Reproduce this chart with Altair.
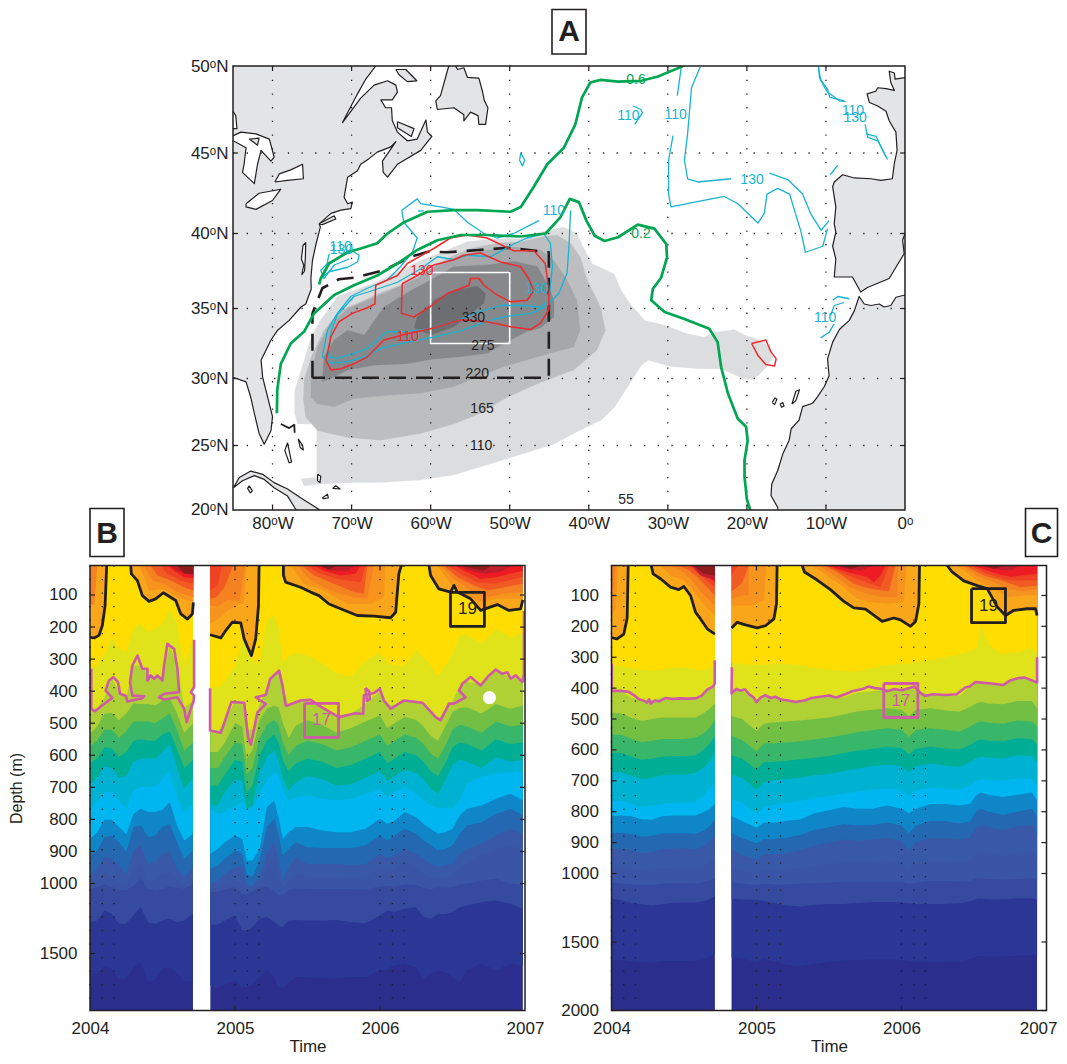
import altair as alt
import pandas as pd

INK = "#231f20"
GREEN = "#00a651"
RED = "#ee2a2e"
CYAN = "#17b3d2"
PINK = "#cf5ba6"
LAND = "#e3e4e5"
FONT = "Liberation Sans"

# ---------- Panel A (lon, lat) ----------
LON_TICKS = [-80, -70, -60, -50, -40, -30, -20, -10, 0]
LAT_TICKS = [20, 25, 30, 35, 40, 45, 50]

gray_110 = [(-73.9,34.17),(-71.8,35.8),(-69.7,36.2),(-66.7,36.8),(-64.2,37.45),(-61.3,38.2),(-57.9,38.9),(-55.4,39.45),(-52.8,39.6),(-48.6,39.67),(-46.1,40.1),(-43.2,40.4),(-41.5,40),(-40.6,39),(-39.6,38),(-36.8,37.3),(-35.9,36.2),(-34.6,35.2),(-32.9,34.15),(-30.4,33.8),(-27.5,33.2),(-25.4,32.95),(-24.1,33.3),(-22.8,33.4),(-21.6,33.5),(-20.3,33.1),(-18.6,32.8),(-17.4,32.35),(-16.7,31.5),(-17.4,30.9),(-18.6,30.2),(-19.5,29.9),(-20.7,30.05),(-23.3,30.7),(-26.2,30.7),(-29.6,30.85),(-32.5,31.3),(-33.4,30.9),(-35.05,29.4),(-36.7,27.9),(-38.4,26.9),(-41.9,25.9),(-44.4,25.1),(-48.6,24.3),(-52.8,23.5),(-57.1,22.7),(-61.3,22.3),(-66.3,22.1),(-69.7,22.1),(-73.9,22),(-76,21.85),(-76.4,22.4),(-74.4,22.5),(-74.4,26.6),(-76.8,26.6),(-77.2,27.4),(-77.2,29.1),(-76,31.3),(-75.1,33)]
gray_165 = [(-76.1,28.4),(-75.8,27.1),(-74.3,26.1),(-70.5,25.6),(-66.3,25.4),(-61.3,25.9),(-57.05,26.6),(-53.7,27.4),(-50.3,28.6),(-46.5,29.6),(-41.9,30.6),(-39,32),(-37.9,33.45),(-38.5,35.1),(-40.2,36.9),(-41.05,38.4),(-42.3,39.35),(-44,39.9),(-45.7,39.8),(-48.6,39.45),(-51.6,39.35),(-54.95,39),(-57.9,38.35),(-60.4,37.45),(-63.8,36.55),(-66.7,36),(-68.8,35.45),(-71.4,34.9),(-73.5,33.45),(-75.1,31.55),(-76,29.9)]
gray_220 = [(-75.15,28.6),(-74.3,28.1),(-72.2,27.9),(-69.7,28.5),(-65.5,28.75),(-61.3,28.9),(-57.05,29.4),(-54.1,30.1),(-50.7,30.85),(-46.5,31.55),(-41.9,32.25),(-41.1,33.45),(-41.5,35.55),(-42.75,36.9),(-44.4,38.2),(-46.1,38.9),(-49.5,39.1),(-52.8,38.9),(-56.2,38.55),(-59.2,37.9),(-61.7,37),(-65.5,36.1),(-68,35.55),(-70.5,35),(-72.6,33.9),(-74.3,32.25),(-75.1,30.35)]
gray_275 = [(-73.7,29.75),(-72.2,30.1),(-70.5,30.6),(-67.15,30.95),(-62.95,31.05),(-59.6,31.4),(-56.2,31.55),(-52.85,31.8),(-50.75,32.5),(-47.8,33.35),(-46.1,33.6),(-44.4,34.4),(-44.4,35.55),(-45.25,36.65),(-46.5,37.8),(-49.5,38.15),(-52.85,37.9),(-57.05,37.8),(-60,36.9),(-62.5,36.2),(-65.9,35.1),(-68.4,33.1),(-70.5,33.45),(-72.2,32.75),(-73.5,31.55)]
gray_330 = [(-62.1,33.6),(-60,33.1),(-57.05,33.7),(-55.15,34.55),(-53.25,35.35),(-53.05,36),(-54.1,36.5),(-57.05,36.2),(-59.6,35.55),(-61.7,34.4)]

north_america = [(-66.95,51),(-66.95,50),(-68.2,49.25),(-69.25,48.4),(-71.15,46.75),(-68.85,48.15),(-67.15,48.9),(-65.45,49.15),(-64.4,48.9),(-64.2,48.5),(-64.85,48.05),(-66.3,48.05),(-65.7,47.6),(-64.95,47.6),(-64.85,46.85),(-64.2,46.2),(-62.95,45.7),(-61.7,45.8),(-61.05,46.45),(-60.6,46.9),(-60.4,46.2),(-59.85,45.95),(-61.25,45.15),(-63.35,44.55),(-64.2,44.3),(-65.45,43.5),(-66,43.8),(-66.1,44.5),(-64.85,45.35),(-64.4,45.65),(-65.05,45.35),(-66.75,45.05),(-67.8,44.65),(-68.85,44.3),(-69.25,43.9),(-70.5,43.5),(-70.95,42.25),(-70.5,41.85),(-69.9,41.95),(-70.1,41.55),(-71.35,41.45),(-72.6,41.25),(-74.1,40.6),(-73.95,40.4),(-74.5,39.3),(-74.95,38.2),(-75.15,37),(-75.1,36.3),(-75.8,35.3),(-76.4,35.1),(-77.9,34.15),(-79.35,33.45),(-80.2,32.75),(-81.45,31.3),(-81.25,30.1),(-80,27.15),(-80.2,26.1),(-81.05,25.1),(-81.7,25.9),(-82.3,27.4),(-82.75,28.6),(-83.35,29.75),(-84.85,30.05),(-86,30),(-86,51),(-66.95,51)]
chesapeake = [(-75.8,39.4),(-76.15,39.2),(-76.35,38.3),(-76.05,37.9),(-76.3,37.25),(-75.95,37.5),(-75.85,38.4),(-75.8,39.4)]
huron = [(-84.97,46),(-84,46.2),(-82.1,46.1),(-80.4,45.8),(-79.8,44.75),(-80.2,44.5),(-81.45,45.15),(-81.9,44.3),(-82.3,43.1),(-83.8,43.8),(-83.6,44.3),(-83.35,45.3),(-84.97,45.7),(-86,45.7),(-86,46),(-84.97,46)]
ontario = [(-79.7,43.2),(-79.15,43.7),(-77.7,43.95),(-76.2,44.3),(-76.1,43.4),(-78.1,43.3),(-79.7,43.2)]
erie = [(-83.35,41.85),(-81.7,42.5),(-78.95,42.75),(-80,42.05),(-82.1,41.5),(-83.35,41.65),(-83.35,41.85)]
superior_edge = [(-85,47.4),(-84.65,47.15),(-84.5,46.4),(-86,46.4),(-86,47.4),(-85,47.4)]
manitoulin = [(-82.95,45.8),(-81.7,45.85),(-81.9,45.45),(-82.95,45.8)]
long_island = [(-74.1,40.6),(-72.2,41.1),(-72,40.9),(-73.7,40.55),(-74.1,40.6)]
anticosti = [(-64.4,49.8),(-63.15,49.8),(-61.75,49.15),(-62.95,49.1),(-64,49.5),(-64.4,49.8)]
pei = [(-64.2,46.8),(-62.1,46.4),(-62.45,45.95),(-64.2,46.45),(-64.2,46.8)]
newfoundland = [(-57.7,51),(-57.7,50),(-57.9,49.7),(-58.75,48.3),(-59.35,48),(-59.15,47.5),(-57.05,47.6),(-55.8,47.2),(-55.8,46.85),(-54.95,47.35),(-54,47.15),(-53.9,46.65),(-53.05,46.65),(-52.75,47.6),(-53.2,48),(-53.45,48.55),(-53.9,49.3),(-55.35,49.35),(-55.8,49.9),(-56.6,49.8),(-56.85,50),(-56.85,51),(-57.7,51)]
europe = [(1,49.33),(0,49.33),(-1.25,49.25),(-1.35,49.6),(-2,49.7),(-1.8,49.05),(-1.35,48.6),(-2.4,48.7),(-3.45,48.75),(-3.7,48.55),(-4.8,48.4),(-4.5,47.9),(-3.45,47.7),(-2.4,47.4),(-2,46.85),(-1.15,46.2),(-1,45.15),(-1.35,44.35),(-1.6,43.4),(-3.05,43.3),(-4.3,43.4),(-6.4,43.45),(-7.9,43.65),(-8.95,43.2),(-9.15,42.9),(-8.75,41.65),(-8.95,40.6),(-8.75,40.1),(-9.15,39.15),(-8.75,38.3),(-8.95,37.1),(-6.65,37.1),(-5.6,36.1),(-4.75,36.4),(-2,37),(-1.15,37.75),(-0.1,38.65),(-0.3,39.55),(0,40),(1,40),(1,49.33)]
africa = [(1,35.9),(0,35.9),(-1.15,35.75),(-1.8,35.2),(-2.65,35.1),(-3.25,35.3),(-4.3,35.2),(-5.15,35.3),(-5.8,35.8),(-6.4,34.85),(-7.05,34.15),(-8.3,33.5),(-9.15,32.6),(-9.8,31.4),(-9.6,30.2),(-10.2,29.4),(-11.05,28.65),(-11.7,28.15),(-12.95,27.9),(-13.4,26.9),(-14.4,26.25),(-14.65,25.4),(-15.45,24.35),(-16.1,23.05),(-16.85,22),(-16.95,21.1),(-16.1,20.15),(-16.1,19.5),(1,19.5),(1,35.9)]
cuba = [(-84.95,21.7),(-84.2,22.5),(-82.75,23),(-81.25,22.75),(-79.8,22.1),(-78.1,21.6),(-76.4,20.9),(-74.1,20),(-74.1,19.6),(-77.05,19.6),(-77.05,20),(-78.1,21.05),(-79.8,21.7),(-81.05,22.35),(-82.3,22.65),(-83.8,22.25),(-84.95,21.7)]
small_islands = [
    [(-82.95,21.85),(-82.55,21.45),(-82.8,21.3),(-83.15,21.65),(-82.95,21.85)],
    [(-78.1,25.2),(-77.6,23.7),(-77.9,23.65),(-78.45,24.6),(-78.1,25.2)],
    [(-76.75,25.5),(-76.2,25),(-76.1,24.65),(-76.5,24.85),(-76.75,25.5)],
    [(-74.3,22.75),(-73.9,22.6),(-74,22.1),(-74.3,22.25),(-74.3,22.75)],
    [(-72.4,21.65),(-72,21.85),(-71.45,21.6),(-72.4,21.65)],
    [(-73.7,20.9),(-73.05,21.2),(-72.95,20.9),(-73.55,20.85),(-73.7,20.9)],
    [(-16.8,28.2),(-16.45,28.55),(-16.2,28.45),(-16.5,28.05),(-16.8,28.2)],
    [(-15.8,28.1),(-15.45,28.2),(-15.3,27.95),(-15.6,27.85),(-15.8,28.1)],
    [(-14.3,28.1),(-13.8,29.05),(-13.35,29.15),(-13.8,28.35),(-14.3,28.1)],
]
bahama_line = [(-78.95,26.6),(-77.9,26.3),(-77.25,26.55),(-77.2,25.95)]

green_06 = [(-74.1,36.6),(-73.9,37),(-72.85,38),(-70.5,38.75),(-68.85,39),(-66.75,39.35),(-65.45,40),(-63.35,40.7),(-60.4,41.35),(-57.05,41.45),(-54.1,41.45),(-49.9,41.35),(-48.6,41.65),(-46.95,42.9),(-45.25,44.3),(-43.15,45.3),(-41.7,46.65),(-40.85,48.2),(-39.8,49.05),(-38.5,49.2),(-36.3,49.1),(-33.35,49.15),(-31.25,49.4),(-28.3,49.95),(-27.3,50.2)]
green_02 = [(-79.45,27.4),(-79.4,29.15),(-78.95,31.05),(-77.7,32.5),(-76,33.35),(-74.75,34.65),(-72.2,35.9),(-69.7,36.55),(-66.75,37.2),(-64.2,38),(-61.7,38.9),(-59.15,39.55),(-56.2,39.9),(-52.85,39.9),(-48.65,39.8),(-45.45,40),(-43.6,41),(-42.4,42.15),(-41.25,41.95),(-40.3,40.8),(-39.25,39.85),(-38,39.5),(-36.3,39.75),(-33.8,40.55),(-31.7,40.3),(-30.2,39.3),(-30.1,38.4),(-30.85,37.05),(-31.9,36.3),(-32.1,35.55),(-30.4,34.75),(-27.9,34.25),(-24.75,33.55),(-23.7,32.6),(-23.25,30.8),(-22.4,28.9),(-21.15,27),(-20.1,26.4),(-19.9,25.35),(-20.3,23.85),(-20.3,22.55),(-20,20.8),(-19.55,19.9)]
dash_box = [(-74.95,30.05),(-74.95,34.65),(-73.7,36.35),(-71.6,36.95),(-69.7,37.05),(-65.9,37.55),(-62.5,38.45),(-60.2,38.8),(-57.9,38.75),(-53.9,38.9),(-50.3,39.05),(-45.9,38.8),(-45.05,38.75),(-45.05,30.05),(-74.95,30.05)]
white_box = [(-60,37.4),(-50,37.4),(-50,32.5),(-60,32.5),(-60,37.4)]

red_lines = [
    [(-73.25,31.3),(-72.6,30.6),(-71.35,30.7),(-69.7,31.05),(-68,31.55),(-65.9,32.75),(-62.95,33.2),(-59.6,33.6),(-56.2,34.2),(-52.85,34.05),(-49.9,33.7),(-47.35,33.5),(-46.1,33.95),(-45.05,34.9),(-45.05,36.2),(-45.5,38),(-46.95,38.85),(-49.5,38.85),(-52.85,39.7),(-55.35,39.9),(-57.5,39.7),(-59.6,39),(-62.95,38),(-64.2,37.2),(-66.95,36.55),(-67.05,35.3),(-68,35.05),(-69.9,34.65),(-71.6,34.05),(-72.6,33),(-73.25,31.3)],
    [(-63.6,36.65),(-63.7,34.65),(-62.1,34.4),(-60,35.15),(-57.9,36),(-55.15,36.55),(-54.95,37),(-53.9,37),(-53.25,36.55),(-51.6,35.9),(-49.9,35.45),(-47.8,35.55),(-46.95,36.2),(-47.6,37),(-48.65,37.8),(-51.15,38.1),(-53.7,38.7),(-55.8,38.55),(-57.05,38.25),(-59.6,37.9),(-61.7,37.2),(-63.6,36.65)],
    [(-19.4,32.5),(-17.6,32.75),(-16.95,31.9),(-16.3,31.4),(-16.5,30.9),(-17.6,31),(-18.6,31.65),(-19.4,32.5)],
]
cyan_lines = [
    [(-46.3,40.8),(-49.5,40),(-51.6,39.7),(-53.25,40),(-55.35,40.7),(-57.05,41.5),(-58.75,41.65),(-61.25,41.85),(-61.7,42.15),(-63.65,41.45),(-63.4,40.7),(-61.7,39.7),(-62.3,38.75),(-63.8,37.8),(-65.5,36.9),(-68,36.35),(-70.1,35.8),(-71.8,34.65),(-73.05,33.45),(-73.7,31.55),(-72.6,31.1),(-70.5,31.2),(-68.4,31.55),(-66.3,32.15),(-62.95,32.6),(-59.6,32.95),(-56.2,33.4),(-52.85,34.1),(-50.3,34.45),(-47.35,34.65),(-45.5,35.1),(-43.8,36),(-42.75,37.35),(-42.5,39.15),(-42.3,41.45)],
    [(-73,31.55),(-71.8,31.45),(-69.7,31.8),(-68,32.15),(-66.75,32.75),(-65.5,33.35),(-62.95,33.35),(-59.6,33.6),(-57.05,34.05),(-54.5,34.65),(-51.15,35.2),(-48.6,35.2),(-46.1,35.1),(-45.05,35.55),(-44.6,37.8),(-44.85,39.35),(-45.7,40),(-47.8,39.7),(-49.5,39.3),(-52.4,38.45),(-55.35,38.55),(-57.05,38.25),(-59.15,38.45),(-61.25,37.65),(-64.2,36.75),(-66.75,36.3),(-69.7,35.8),(-71.8,34.55),(-72.6,33.35),(-73,31.55)],
    [(-72.85,38.65),(-73.25,37.55),(-73.7,37.1),(-72.85,37.45),(-70.5,37.75),(-69.25,38.1),(-69.05,38.55),(-70.1,38.9)],
    [(-70.3,38.3),(-72.2,37.9),(-73.5,37),(-73.9,37.55),(-72.85,38.1)],
    [(-48.6,45),(-48.1,44.55),(-48.4,44.2),(-48.75,44.55),(-48.6,45)],
    [(-61.6,41.4),(-60.85,41.4)],
    [(-34.4,47.7),(-33.4,47.5),(-33.2,47.3),(-34.2,46.65)],
    [(-28.3,49.95),(-28.8,48.3)],
    [(-29.35,46),(-29.9,44.55),(-29.9,42.45),(-29.6,41.65),(-26.6,41.95),(-22.85,42.3),(-21.15,41.85),(-18.6,40.65),(-17.8,41.25),(-17.45,42.45),(-16.1,42.8),(-14.6,42.45),(-13.15,40.1),(-12.6,38.75),(-10.4,39.15),(-9.8,40.3)],
    [(-25.9,49.95),(-27,48.75),(-27.5,46.1),(-27.9,44.55),(-27.5,43.4),(-26.2,43.2),(-22,43.4)],
    [(-17.15,43.75),(-14.85,43.35),(-12.95,42.45),(-11.9,41.2),(-10.6,40.2),(-9.6,40.8)],
    [(-10.95,49.95),(-10.65,49.15),(-9.8,48.5),(-8.3,48),(-7.5,47.95)],
    [(-10.95,49.95),(-10.8,49.3),(-9.8,48.65),(-9.5,48.2),(-7.7,48)],
    [(-5.05,46.65),(-4.7,45.9),(-3.45,45.7),(-2.2,44.6)],
    [(-4.95,46.1),(-3.65,45.95),(-2.4,44.75)],
    [(-9.45,43.65),(-8.5,44.25)],
    [(-9.15,35.55),(-8.5,35.8),(-7.05,35.65)],
    [(-9.4,34.5),(-8.95,35.2),(-7.7,35.4)],
    [(-10.65,32.9),(-9.6,33.3),(-8.95,33.9)],
]
map_labels = [
    ("0.6",-34.03,49.2,GREEN),("0.2",-33.4,40.0,GREEN),
    ("110",-35,47.13,CYAN),("110",-29,47.2,CYAN),("110",-6.6,47.4,CYAN),("130",-6.3,47.0,CYAN),
    ("130",-19.35,43.3,CYAN),("110",-44.4,41.4,CYAN),("110",-71.4,39.1,CYAN),("130",-71.3,38.9,CYAN),
    ("130",-46.55,36.3,CYAN),("110",-10.1,34.3,CYAN),("130",-61.1,37.5,RED),("110",-62.9,33.0,RED),
    ("330",-54.6,34.3,INK),("275",-53.4,32.3,INK),("220",-54.1,30.3,INK),("165",-53.5,27.7,INK),
    ("110",-53.6,24.95,INK),("55",-35.3,20.75,INK),
]

# ---------- Panels B and C (year, depth) ----------
WARM = {"c2":"#f7941d","c3":"#f58220","c4":"#f15a22","c5":"#ef4123","c6":"#ed1c24","c7":"#be1e2d","c8":"#8e1b1e"}
BLACK19 = "#faa61a"
COOL = ["#2a3795","#364a9f","#3a55a6","#3a58a8","#2468b1","#0f86c8","#00b6f0","#00b2d1","#00ae96","#38b76a","#72bf44","#afd135","#e0e21a","#ffdd00"]
BASE = "#2b2e8c"
DOT_YEARS = [2004,2004.085,2004.165,2005,2005.085,2005.165,2006,2006.085,2006.165]

# Panel B
b_t1 = [2004.0,2004.05,2004.1,2004.15,2004.2,2004.25,2004.3,2004.35,2004.4,2004.45,2004.5,2004.55,2004.6,2004.65,2004.71]
b_t2 = [2004.83,2004.88,2004.93,2005.0,2005.05,2005.08,2005.12,2005.17,2005.22,2005.27,2005.3,2005.33,2005.37,2005.42,2005.5,2005.6,2005.7,2005.8,2005.9,2006.0,2006.05,2006.1,2006.17,2006.25,2006.3,2006.35,2006.4,2006.45,2006.5,2006.55,2006.6,2006.7,2006.8,2006.9,2006.985]
b_levels = [
 ([1669,1640,1590,1610,1680,1680,1600,1560,1700,1690,1610,1600,1640,1700,1700],[1729,1752,1717,1693,1740,1740,1717,1669,1621,1669,1740,1752,1705,1669,1669,1674,1681,1669,1669,1621,1610,1586,1574,1598,1681,1645,1621,1633,1669,1705,1621,1574,1621,1574,1586]),
 ([1276,1264,1193,1217,1288,1288,1225,1169,1276,1288,1264,1252,1276,1264,1217],[1293,1293,1264,1229,1336,1336,1312,1252,1240,1276,1300,1312,1264,1260,1264,1264,1260,1276,1283,1229,1193,1205,1181,1169,1240,1252,1217,1217,1205,1169,1157,1133,1121,1145,1181]),
 ([1037,1027,1006,1027,1048,1048,1017,985,1037,1048,1037,1022,1032,1037,1006],[1063,1058,1043,1027,1074,1079,1058,1032,1022,1053,1084,1079,1048,1035,1037,1041,1037,1041,1043,1022,1017,1022,1006,1011,1032,1041,1027,1032,1027,1006,1001,991,985,1001,1011]),
 ([1006,996,964,980,996,1006,954,933,991,991,970,964,991,1006,980],[1037,1022,1006,991,1001,1048,1048,1011,949,913,980,1032,991,965,980,980,980,985,980,949,965,955,934,949,970,980,985,980,975,949,934,913,892,881,897]),
 ([975,954,918,923,944,970,897,881,939,933,907,902,954,980,949],[1006,991,970,949,949,1006,1017,980,907,871,928,991,949,918,939,939,939,944,939,907,923,912,892,907,923,939,949,944,939,907,892,876,850,829,845]),
 ([913,897,855,850,871,902,824,819,855,850,824,814,871,923,897],[954,944,923,897,907,970,980,928,824,798,845,913,892,871,887,889,889,889,881,850,866,850,829,845,866,881,897,892,881,845,819,809,783,767,788]),
 ([861,840,801,801,824,847,783,767,777,777,770,746,819,866,845],[907,892,871,850,861,928,928,892,762,741,793,861,840,824,824,835,840,840,829,798,814,804,778,793,814,829,845,840,829,788,767,757,736,720,741]),
 ([762,746,715,715,741,767,710,699,699,699,673,647,730,777,751],[767,783,777,757,746,751,767,720,679,653,663,710,741,731,725,736,741,736,720,705,731,715,699,720,741,757,767,762,767,741,689,668,657,653,653]),
 ([690,670,635,640,670,665,620,610,610,610,590,565,640,705,670],[755,755,715,675,680,770,755,655,605,585,615,675,710,685,665,675,695,690,670,650,680,665,645,655,675,705,720,680,630,615,620,640,605,620,615]),
 ([625,610,575,578,605,590,555,550,555,555,535,525,580,640,615],[695,695,660,615,620,715,695,600,555,535,560,615,650,625,610,620,640,630,610,590,625,610,590,600,620,650,665,625,575,560,565,585,550,565,560]),
 ([570,555,520,520,545,525,495,495,495,500,485,470,520,585,560],[640,640,605,560,565,660,640,545,505,490,505,560,600,570,555,565,585,575,555,535,570,555,535,545,565,595,610,570,520,505,510,530,495,510,505]),
 ([534,510,470,468,490,470,438,440,440,445,430,422,470,530,500],[590,590,560,500,510,610,585,490,455,445,450,500,545,507,491,505,530,515,495,476,515,500,480,490,510,540,555,510,465,452,450,470,440,455,445]),
 ([455,455,420,360,400,420,320,320,345,355,360,255,320,450,430],[525,530,490,434,436,520,520,440,390,345,336,385,445,435,428,455,480,470,440,400,440,445,430,433,440,465,488,460,430,385,370,380,335,358,360]),
 ([330,320,285,232,268,278,205,190,215,205,190,140,190,320,240],[388,388,370,320,245,240,300,320,180,165,200,310,290,280,289,312,345,355,305,280,312,320,320,270,295,320,351,320,285,225,225,251,205,233,217]),
]
b_blobs = [
 {"outline":[(2004.0,232),(2004.028,234),(2004.062,226),(2004.085,195),(2004.104,133),(2004.115,8)],
  "c3":[(2004.0,130),(2004.03,130),(2004.05,8)]},
 {"outline":[(2004.281,8),(2004.285,34),(2004.327,55),(2004.361,102),(2004.407,120),(2004.453,112),(2004.506,93),(2004.591,117),(2004.626,159),(2004.672,175),(2004.706,159),(2004.713,123)],
  "c2":[(2004.338,8),(2004.373,45),(2004.407,86),(2004.51,81),(2004.603,107),(2004.713,123)],
  "c3":[(2004.373,8),(2004.43,55),(2004.51,65),(2004.6,91),(2004.713,107)],
  "c4":[(2004.419,8),(2004.465,39),(2004.557,55),(2004.649,76),(2004.713,86)],
  "c5":[(2004.488,8),(2004.534,34),(2004.626,55),(2004.713,65)],
  "c6":[(2004.534,8),(2004.58,24),(2004.649,45),(2004.713,48)],
  "c7":[(2004.557,8),(2004.6,24),(2004.713,39)],
  "c8":[(2004.603,8),(2004.649,34),(2004.713,34)]},
 {"outline":[(2004.828,224),(2004.902,234),(2004.936,211),(2004.982,185),(2005.04,187),(2005.063,237),(2005.113,289),(2005.143,237),(2005.162,133),(2005.166,8)],
  "c2":[(2004.828,190),(2004.9,170),(2004.96,145),(2005.0,135),(2005.06,125),(2005.08,8)],
  "c3":[(2004.828,133),(2004.88,135),(2004.95,115),(2005.03,120),(2005.07,8)],
  "c4":[(2004.828,112),(2004.87,108),(2004.93,75),(2004.985,8)],
  "c5":[(2004.828,86),(2004.88,70),(2004.91,8)]},
 {"outline":[(2005.334,8),(2005.334,39),(2005.349,60),(2005.452,76),(2005.521,91),(2005.579,102),(2005.648,128),(2005.728,143),(2005.843,164),(2005.958,166),(2006.073,171),(2006.108,154),(2006.13,34),(2006.147,8)],
  "c2":[(2005.383,8),(2005.475,65),(2005.59,81),(2005.774,128),(2005.935,128),(2006.027,107),(2006.038,8)],
  "c3":[(2005.429,8),(2005.521,55),(2005.659,86),(2005.82,107),(2005.912,112),(2005.958,8)],
  "c4":[(2005.464,8),(2005.544,39),(2005.659,60),(2005.82,91),(2005.889,96),(2005.912,8)],
  "c5":[(2005.498,8),(2005.567,29),(2005.705,50),(2005.866,60),(2005.9,8)],
  "c6":[(2005.544,8),(2005.613,24),(2005.728,39),(2005.831,34),(2005.866,8)],
  "c7":[(2005.579,8),(2005.659,24),(2005.785,24),(2005.82,8)],
  "c8":[(2005.59,8),(2005.648,21),(2005.705,8)]},
 {"outline":[(2006.338,8),(2006.349,39),(2006.406,81),(2006.487,91),(2006.51,70),(2006.533,91),(2006.625,112),(2006.694,148),(2006.809,130),(2006.889,148),(2006.97,143),(2006.985,115)],
  "c2":[(2006.395,8),(2006.487,65),(2006.579,96),(2006.694,122),(2006.809,112),(2006.985,112)],
  "c3":[(2006.418,8),(2006.51,50),(2006.625,86),(2006.74,107),(2006.844,96),(2006.985,91)],
  "c4":[(2006.441,8),(2006.533,44),(2006.648,70),(2006.74,86),(2006.985,65)],
  "c5":[(2006.464,8),(2006.556,34),(2006.671,60),(2006.786,65),(2006.985,44)],
  "c6":[(2006.51,8),(2006.602,29),(2006.694,50),(2006.809,44),(2006.985,24)],
  "c7":[(2006.533,8),(2006.625,24),(2006.717,34),(2006.82,29),(2006.924,8)],
  "c8":[(2006.556,8),(2006.648,18),(2006.717,24),(2006.763,8)]},
]
b_pink = [
 [(2004.009,330),(2004.009,455),(2004.035,463),(2004.074,448),(2004.154,421),(2004.108,398),(2004.131,367),(2004.161,356),(2004.193,372),(2004.207,408),(2004.246,414),(2004.258,432),(2004.361,422),(2004.373,416),(2004.292,414),(2004.276,372),(2004.292,320),(2004.327,289),(2004.361,330),(2004.396,330),(2004.396,367),(2004.419,351),(2004.442,362),(2004.465,351),(2004.499,367),(2004.511,320),(2004.534,252),(2004.58,268),(2004.603,330),(2004.614,403),(2004.511,408),(2004.476,419),(2004.511,426),(2004.603,419),(2004.649,455),(2004.667,497),(2004.695,455),(2004.713,434),(2004.718,414),(2004.695,403),(2004.718,388),(2004.718,240)],
 [(2004.828,391),(2004.828,523),(2004.902,530),(2004.92,507),(2004.975,434),(2005.063,436),(2005.09,543),(2005.109,567),(2005.155,466),(2005.212,440),(2005.143,419),(2005.212,412),(2005.242,362),(2005.304,336),(2005.327,382),(2005.35,445),(2005.36,445),(2005.452,429),(2005.521,427),(2005.579,445),(2005.716,481),(2005.831,469),(2005.884,471),(2005.889,413),(2005.958,406),(2005.999,393),(2006.027,429),(2006.073,455),(2006.165,429),(2006.292,436),(2006.384,481),(2006.418,491),(2006.476,439),(2006.51,439),(2006.59,419),(2006.545,398),(2006.568,377),(2006.625,356),(2006.694,382),(2006.752,351),(2006.797,333),(2006.844,346),(2006.878,341),(2006.901,361),(2006.936,351),(2006.982,372),(2006.993,346),(2006.993,150)],
 [(2005.9,390),(2005.925,400),(2005.93,425),(2005.91,430),(2005.9,390)],
]
b_hole = [(2006.755,420)]

# Panel C
c_t1 = [2004.0,2004.07,2004.14,2004.21,2004.28,2004.35,2004.42,2004.5,2004.58,2004.64,2004.68,2004.713]
c_t2 = [2004.828,2004.9,2005.0,2005.05,2005.12,2005.2,2005.3,2005.4,2005.5,2005.6,2005.7,2005.8,2005.9,2006.0,2006.05,2006.1,2006.2,2006.3,2006.4,2006.47,2006.52,2006.55,2006.6,2006.7,2006.8,2006.9,2006.935]
c_levels = [
 ([1632,1632,1640,1650,1652,1640,1638,1640,1635,1625,1600,1590],[1612,1620,1650,1625,1640,1665,1677,1660,1645,1635,1632,1628,1628,1632,1638,1645,1650,1650,1645,1625,1605,1600,1608,1605,1600,1595,1600]),
 ([1182,1195,1215,1225,1233,1225,1215,1212,1212,1200,1185,1165],[1182,1190,1194,1200,1215,1232,1240,1228,1222,1222,1215,1208,1208,1212,1218,1222,1222,1222,1218,1205,1185,1182,1188,1188,1180,1180,1190]),
 ([1070,1075,1080,1085,1085,1075,1070,1070,1075,1060,1050,1035],[1070,1075,1085,1075,1080,1080,1075,1070,1065,1060,1060,1060,1060,1060,1075,1065,1055,1055,1060,1055,1035,1035,1040,1045,1040,1035,1050]),
 ([985,980,985,990,985,982,982,980,985,975,965,950],[985,990,1000,990,990,985,982,975,970,965,962,962,958,965,985,970,960,960,965,960,930,925,935,945,935,925,950]),
 ([922,920,925,935,930,920,920,918,922,910,895,880],[920,940,955,938,938,935,925,910,900,890,895,890,885,895,925,900,885,885,890,885,850,845,850,860,848,842,875]),
 ([868,868,872,880,878,870,870,870,872,860,845,825],[870,885,902,888,888,885,875,858,850,840,845,842,835,845,870,845,830,830,838,832,795,790,800,810,800,790,815]),
 ([815,812,815,825,825,815,812,812,812,800,790,775],[815,830,852,835,835,830,825,805,795,785,790,790,780,790,805,790,775,775,780,775,745,738,745,752,745,738,765]),
 ([765,765,775,785,780,775,772,772,768,745,725,700],[760,770,808,785,778,772,765,755,750,740,735,728,725,730,748,730,722,725,728,715,700,695,698,700,692,695,715]),
 ([672,672,684,695,690,682,680,680,675,655,635,610],[680,690,728,705,698,695,690,682,678,668,660,652,648,652,672,652,645,650,655,640,625,622,625,628,618,620,640]),
 ([609,610,622,632,628,622,620,620,618,598,578,555],[618,628,664,640,638,636,630,625,620,610,602,596,590,594,615,596,590,595,598,585,570,566,570,572,562,565,582]),
 ([549,552,565,575,570,565,565,565,560,545,525,505],[555,568,604,580,578,576,572,566,560,552,542,536,530,535,558,535,530,535,540,525,510,508,512,515,505,508,525]),
 ([479,482,497,506,500,495,495,495,495,480,465,450],[490,500,539,515,510,508,505,500,495,485,475,470,465,470,490,470,465,472,476,462,448,445,450,452,442,442,465]),
 ([409,409,432,440,438,430,431,432,430,420,400,385],[405,408,440,425,430,438,443,435,425,430,415,410,403,405,400,405,425,425,425,395,380,380,385,390,368,375,380]),
 ([325,330,335,340,343,340,335,332,340,342,335,325],[318,322,325,325,322,322,325,335,340,345,345,335,325,322,320,315,310,300,290,280,270,195,260,290,285,270,290]),
]
c_blobs = [
 {"outline":[(2004.0,236),(2004.036,241),(2004.085,225),(2004.108,173),(2004.115,3)],
  "c2":[(2004.0,170),(2004.03,140),(2004.047,3)],
  "c3":[(2004.0,100),(2004.02,60),(2004.03,3)]},
 {"outline":[(2004.274,3),(2004.287,30),(2004.338,46),(2004.407,73),(2004.464,81),(2004.499,71),(2004.545,100),(2004.579,154),(2004.614,176),(2004.66,208),(2004.713,225)],
  "c2":[(2004.338,3),(2004.407,35),(2004.499,50),(2004.568,87),(2004.637,130),(2004.713,165)],
  "c3":[(2004.395,3),(2004.476,19),(2004.545,46),(2004.614,87),(2004.713,133)],
  "c4":[(2004.453,3),(2004.522,14),(2004.591,40),(2004.66,73),(2004.713,100)],
  "c5":[(2004.533,3),(2004.602,30),(2004.713,73)],
  "c6":[(2004.54,3),(2004.62,22),(2004.713,58)],
  "c7":[(2004.556,3),(2004.614,35),(2004.713,51)],
  "c8":[(2004.568,3),(2004.63,28),(2004.713,35)]},
 {"outline":[(2004.828,205),(2004.867,187),(2004.924,195),(2005.004,205),(2005.062,198),(2005.12,176),(2005.138,127),(2005.142,3)],
  "c2":[(2004.828,133),(2004.959,133),(2005.051,116),(2005.067,3)],
  "c3":[(2004.828,111),(2004.9,100),(2004.945,100),(2004.947,3)],
  "c4":[(2004.828,87),(2004.9,60),(2004.947,3)],
  "c5":[(2004.828,35),(2004.87,3)]},
 {"outline":[(2005.315,3),(2005.331,24),(2005.418,50),(2005.51,81),(2005.602,119),(2005.671,140),(2005.752,144),(2005.867,184),(2005.947,173),(2005.993,179),(2006.062,200),(2006.097,184),(2006.12,127),(2006.124,3)],
  "c2":[(2005.384,3),(2005.487,35),(2005.602,73),(2005.694,111),(2005.786,122),(2005.901,127),(2006.016,122),(2006.034,3)],
  "c3":[(2005.43,3),(2005.533,35),(2005.648,73),(2005.763,95),(2005.878,106),(2005.97,106),(2005.975,3)],
  "c4":[(2005.464,3),(2005.556,24),(2005.671,62),(2005.786,78),(2005.913,87),(2005.959,3)],
  "c5":[(2005.487,3),(2005.602,30),(2005.717,51),(2005.855,73),(2005.913,3)],
  "c6":[(2005.487,3),(2005.625,24),(2005.763,40),(2005.809,57),(2005.855,35),(2005.89,3)],
  "c7":[(2005.533,3),(2005.625,14),(2005.717,19),(2005.809,3)],
  "c8":[(2005.568,3),(2005.648,14),(2005.728,3)]},
 {"outline":[(2006.315,3),(2006.349,24),(2006.43,53),(2006.522,68),(2006.591,78),(2006.66,137),(2006.717,165),(2006.775,148),(2006.867,143),(2006.924,143),(2006.935,165)],
  "c2":[(2006.384,3),(2006.522,51),(2006.637,78),(2006.729,106),(2006.867,100),(2006.935,100)],
  "c3":[(2006.418,3),(2006.522,35),(2006.637,57),(2006.729,78),(2006.844,87),(2006.935,78)],
  "c4":[(2006.441,3),(2006.568,35),(2006.683,51),(2006.821,73),(2006.935,68)],
  "c5":[(2006.476,3),(2006.591,30),(2006.729,51),(2006.935,51)],
  "c6":[(2006.499,3),(2006.614,24),(2006.752,40),(2006.935,30)],
  "c7":[(2006.533,3),(2006.637,14),(2006.752,19),(2006.81,3)],
  "c8":[(2006.568,3),(2006.637,14),(2006.706,3)]},
]
c_pink = [
 [(2004.002,320),(2004.002,409),(2004.07,409),(2004.12,412),(2004.16,425),(2004.19,436),(2004.22,440),(2004.245,447),(2004.26,436),(2004.27,450),(2004.3,440),(2004.33,443),(2004.37,432),(2004.42,435),(2004.47,433),(2004.53,434),(2004.58,433),(2004.62,425),(2004.66,405),(2004.7,395),(2004.712,385),(2004.712,310)],
 [(2004.83,332),(2004.828,417),(2004.86,403),(2004.89,408),(2004.92,404),(2004.95,420),(2004.98,430),(2005.0,445),(2005.03,430),(2005.06,423),(2005.1,432),(2005.13,428),(2005.17,437),(2005.22,440),(2005.27,445),(2005.33,440),(2005.38,432),(2005.44,428),(2005.5,424),(2005.55,430),(2005.61,420),(2005.66,410),(2005.73,403),(2005.77,395),(2005.82,400),(2005.86,402),(2005.9,410),(2005.95,403),(2006.0,407),(2006.05,400),(2006.09,395),(2006.13,415),(2006.16,425),(2006.22,420),(2006.3,422),(2006.38,420),(2006.44,398),(2006.47,395),(2006.51,380),(2006.55,382),(2006.62,385),(2006.7,390),(2006.75,375),(2006.8,368),(2006.85,366),(2006.9,375),(2006.935,382),(2006.935,300)],
]

# ---------- helpers ----------
# A layer with axis=None would drop the merged axis, so every layer carries the same axis.
class Pos:
    def __init__(self, scale, title, axis):
        self.scale, self.title, self.axis = scale, title, axis
    def x(self, f):
        return alt.X(f, scale=self.scale, title=self.title, axis=self.axis)
    def y(self, f):
        return alt.Y(f, scale=self.scale, title=self.title, axis=self.axis)

def pts(points):
    return pd.DataFrame({"x": [p[0] for p in points], "y": [p[1] for p in points], "i": list(range(len(points)))})

def path(points, px, py, color, width, fill=None, dash=None):
    kw = dict(clip=True, strokeWidth=width, stroke=color, strokeJoin="round", strokeCap="butt")
    if fill:
        kw["fill"] = fill
    if dash:
        kw["strokeDash"] = dash
    return alt.Chart(pts(points)).mark_line(**kw).encode(x=px.x("x:Q"), y=py.y("y:Q"), order=alt.Order("i:Q"))

def band(points, top, px, py, color):
    d = pts(points)
    d["top"] = top
    return alt.Chart(d).mark_area(clip=True, color=color, interpolate="linear", opacity=1).encode(
        x=px.x("x:Q"), y=py.y("top:Q"), y2=alt.Y2("y:Q"))

def vdots(values, px, h, dash):
    return alt.Chart(pd.DataFrame({"v": values})).mark_rule(color=INK, strokeWidth=1.3, strokeDash=dash).encode(
        x=px.x("v:Q"), y=alt.value(0), y2=alt.value(h))

def hdots(values, py, w, dash):
    return alt.Chart(pd.DataFrame({"v": values})).mark_rule(color=INK, strokeWidth=1.3, strokeDash=dash).encode(
        y=py.y("v:Q"), x=alt.value(0), x2=alt.value(w))

def ticks_x(values, px, h, ln=5):
    base = alt.Chart(pd.DataFrame({"v": values})).mark_rule(color=INK, strokeWidth=1.2)
    return [base.encode(x=px.x("v:Q"), y=alt.value(0), y2=alt.value(ln)),
            base.encode(x=px.x("v:Q"), y=alt.value(h), y2=alt.value(h - ln))]

def ticks_y(values, py, w, ln=5):
    base = alt.Chart(pd.DataFrame({"v": values})).mark_rule(color=INK, strokeWidth=1.2)
    return [base.encode(y=py.y("v:Q"), x=alt.value(0), x2=alt.value(ln)),
            base.encode(y=py.y("v:Q"), x=alt.value(w), x2=alt.value(w - ln))]

ANCHOR = pd.DataFrame({"x": [0], "y": [0]})

def frame(w, h, color=INK, width=1.5):
    return alt.Chart(ANCHOR).mark_rect(filled=False, stroke=color, strokeWidth=width).encode(
        x=alt.value(0), x2=alt.value(w), y=alt.value(0), y2=alt.value(h))

def letter_box(ch, x0, x1, y0, y1, yt):
    box = alt.Chart(ANCHOR).mark_rect(filled=False, stroke=INK, strokeWidth=1.6).encode(
        x=alt.value(x0), x2=alt.value(x1), y=alt.value(y0), y2=alt.value(y1))
    txt = alt.Chart(pd.DataFrame({"t": [ch]})).mark_text(
        font=FONT, fontWeight="bold", fontSize=30, color=INK, baseline="middle", align="center"
    ).encode(text="t:N", x=alt.value((x0 + x1) / 2), y=alt.value(yt))
    return [box, txt]

# ---------- Panel A ----------
AW, AH = 672, 444
ax_a = Pos(alt.Scale(domain=[-85, 0], nice=False, zero=False), None, alt.Axis(
    values=LON_TICKS, tickSize=0, domain=False, grid=False, labelPadding=5, labelFontSize=17,
    labelColor=INK, labelFont=FONT, labelOverlap=False, labelFlush=False,
    labelExpr="datum.value == 0 ? '0ᵒ' : abs(datum.value) + 'ᵒW'"))
ay_a = Pos(alt.Scale(domain=[20, 25, 30, 35, 40, 45, 50], range=[443.5, 379.5, 312.5, 242.5, 167.5, 87, 0], nice=False, zero=False), None, alt.Axis(
    values=LAT_TICKS, tickSize=0, domain=False, grid=False, labelPadding=5, labelFontSize=17,
    labelColor=INK, labelFont=FONT, labelOverlap=False, labelFlush=False,
    labelExpr="datum.value + 'ᵒN'"))

a_layers = []
for poly, col in [(gray_110, "#dcddde"), (gray_165, "#bcbec0"), (gray_220, "#a5a7aa"), (gray_275, "#86888b"), (gray_330, "#6d6e71")]:
    a_layers.append(path(poly + poly[:1], ax_a, ay_a, col, 0.2, fill=col))
for poly in [north_america, newfoundland, europe, africa, cuba, anticosti, pei]:
    a_layers.append(path(poly, ax_a, ay_a, INK, 1.2, fill=LAND))
for poly in [chesapeake, huron, ontario, erie, superior_edge]:
    a_layers.append(path(poly, ax_a, ay_a, INK, 1.2, fill="#ffffff"))
a_layers.append(path(manitoulin, ax_a, ay_a, INK, 1.2, fill=LAND))
a_layers.append(path(long_island, ax_a, ay_a, INK, 1.2, fill=LAND))
for poly in small_islands:
    a_layers.append(path(poly, ax_a, ay_a, INK, 1.2, fill="#ffffff"))
a_layers.append(path(bahama_line, ax_a, ay_a, INK, 1.8))
a_layers.append(vdots(LON_TICKS[:-1], ax_a, AH, [1.3, 12.4]))
a_layers.append(hdots(LAT_TICKS[1:-1], ay_a, AW, [1.3, 12.4]))
a_layers.append(path(white_box, ax_a, ay_a, "#ffffff", 1.6))
a_layers.append(path(dash_box, ax_a, ay_a, INK, 2.6, dash=[17, 10]))
for ln in cyan_lines:
    a_layers.append(path(ln, ax_a, ay_a, CYAN, 1.3))
for ln in red_lines:
    a_layers.append(path(ln, ax_a, ay_a, RED, 1.5))
a_layers.append(path(green_06, ax_a, ay_a, GREEN, 2.7))
a_layers.append(path(green_02, ax_a, ay_a, GREEN, 2.7))
lab_df = pd.DataFrame(map_labels, columns=["t", "x", "y", "c"])
a_layers.append(alt.Chart(lab_df).mark_text(font=FONT, fontSize=14, baseline="middle", align="center").encode(
    x=ax_a.x("x:Q"), y=ay_a.y("y:Q"), text="t:N", color=alt.Color("c:N", scale=None, legend=None)))
a_layers += ticks_x(LON_TICKS[:-1], ax_a, AH) + ticks_y(LAT_TICKS[1:-1], ay_a, AW)
a_layers.append(frame(AW, AH))
a_layers += letter_box("A", 319, 353, -56.5, -12, -34)
panel_a = alt.layer(*a_layers).properties(width=AW, height=AH)

# ---------- Panels B, C ----------
PW, PH = 435, 445
DEPTH_DASH = [1.3, 12.2]

def panel(t1, t2, levels, blobs, pinks, dom, rng, yvals, ytitle, top, bx, by, pbx, pby, letter, extra=None, inset_last=False):
    x_kw = dict(
        values=[2004, 2005, 2006, 2007], format="d", tickSize=0, domain=False, grid=False,
        labelPadding=10, labelFontSize=17, labelColor=INK, labelFont=FONT, labelOverlap=False, labelFlush=False,
        titleFont=FONT, titleFontSize=17, titleFontWeight="normal", titleColor=INK, titlePadding=2)
    if inset_last:
        x_kw["labelExpr"] = "datum.value == 2007 ? '' : datum.label"
    px = Pos(alt.Scale(domain=[2004, 2007], nice=False, zero=False), "Time", alt.Axis(**x_kw))
    py = Pos(alt.Scale(domain=dom, range=rng, nice=False, zero=False), ytitle, alt.Axis(
        values=yvals, format="d", tickSize=0, domain=False, grid=False,
        labelPadding=13, labelFontSize=17, labelColor=INK, labelFont=FONT, labelOverlap=False, labelFlush=False,
        titleFont=FONT, titleFontSize=16, titleFontWeight="normal", titleColor=INK, titlePadding=15))
    layers = []
    for times in (t1, t2):
        layers.append(band([(times[0], dom[-1]), (times[-1], dom[-1])], top, px, py, BASE))
    for (v1, v2), col in zip(levels, COOL):
        layers.append(band(list(zip(t1, v1)), top, px, py, col))
        layers.append(band(list(zip(t2, v2)), top, px, py, col))
    for blob in blobs:
        layers.append(band(blob["outline"], top, px, py, BLACK19))
        for key, col in WARM.items():
            if key in blob:
                layers.append(band(blob[key], top, px, py, col))
    if extra:
        layers += extra(px, py)
    layers.append(vdots(DOT_YEARS, px, PH, DEPTH_DASH))
    for ln in pinks:
        layers.append(path(ln, px, py, PINK, 2.6))
    for blob in blobs:
        layers.append(path(blob["outline"], px, py, INK, 2.8))
    layers.append(path([(bx[0], by[0]), (bx[1], by[0]), (bx[1], by[1]), (bx[0], by[1]), (bx[0], by[0])], px, py, INK, 2.8))
    layers.append(path([(pbx[0], pby[0]), (pbx[1], pby[0]), (pbx[1], pby[1]), (pbx[0], pby[1]), (pbx[0], pby[0])], px, py, PINK, 2.8))
    txt = pd.DataFrame({"x": [sum(bx) / 2, sum(pbx) / 2], "y": [sum(by) / 2, sum(pby) / 2], "t": ["19", "17"], "c": [INK, PINK]})
    layers.append(alt.Chart(txt).mark_text(font=FONT, fontSize=17, baseline="middle", align="center").encode(
        x=px.x("x:Q"), y=py.y("y:Q"), text="t:N", color=alt.Color("c:N", scale=None, legend=None)))
    layers += ticks_y(yvals, py, PW)
    layers += ticks_x([2005, 2006], px, PH)
    layers.append(frame(PW, PH))
    if inset_last:
        layers.append(alt.Chart(pd.DataFrame({"t": ["2007"]})).mark_text(
            font=FONT, fontSize=17, color=INK, align="right", baseline="middle"
        ).encode(text="t:N", x=alt.value(PW + 11), y=alt.value(PH + 18.5)))
    layers += letter
    return alt.layer(*layers).properties(width=PW, height=PH)

def b_extra(px, py):
    return [alt.Chart(pts(b_hole)).mark_point(filled=True, color="#ffffff", size=170, opacity=1, shape="circle").encode(
        x=px.x("x:Q"), y=py.y("y:Q"))]

panel_b = panel(b_t1, b_t2, b_levels, b_blobs, b_pink, [8, 1000, 1907], [0, 318, 445],
                [100, 200, 300, 400, 500, 600, 700, 800, 900, 1000, 1500], "Depth (m)", 8,
                (2006.486, 2006.72), (92, 198), (2005.48, 2005.714), (438, 544),
                letter_box("B", 0, 34, -57, -9, -32), extra=b_extra)
panel_c = panel(c_t1, c_t2, c_levels, c_blobs, c_pink, [3, 1000, 2000], [0, 308, 445],
                [100, 200, 300, 400, 500, 600, 700, 800, 900, 1000, 1500, 2000], None, 3,
                (2006.483, 2006.717), (78, 188), (2005.878, 2006.113), (385, 495),
                letter_box("C", 414, 446, -57, -9, -32), inset_last=True)

spacer = alt.Chart(ANCHOR).mark_point(opacity=0).encode(x=alt.value(0), y=alt.value(0)).properties(width=142.5, height=1)
row1 = alt.hconcat(spacer, panel_a, spacing=0, bounds="flush")
row2 = alt.hconcat(panel_b, panel_c, spacing=86.5, bounds="flush")
chart = alt.vconcat(row1, row2, spacing=499.5, bounds="flush").properties(
    padding={"left": 0, "top": 0, "right": 0, "bottom": 0}
).configure_view(strokeWidth=0)

chart.save("out.html", embed_options={"renderer": "svg", "actions": False})
